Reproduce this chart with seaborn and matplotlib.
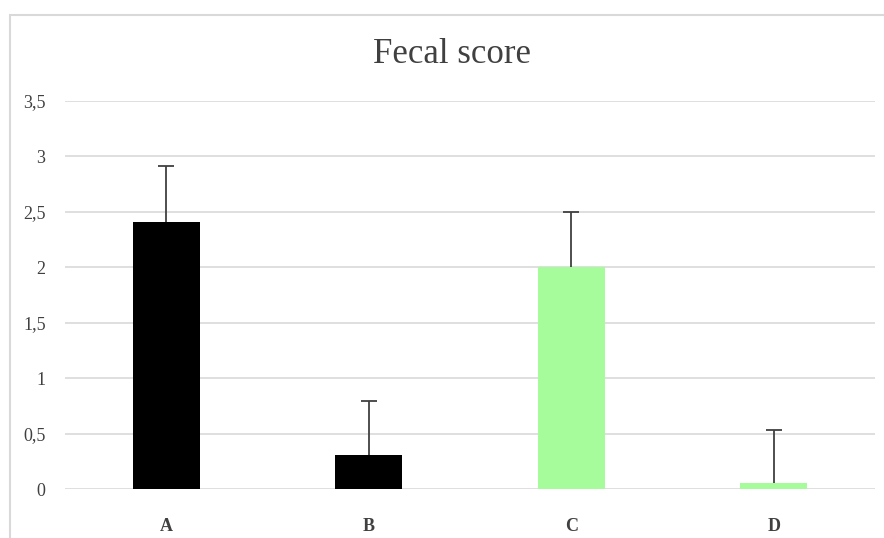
import matplotlib
matplotlib.use("Agg")
import matplotlib.pyplot as plt
import seaborn as sns
import pandas as pd
from matplotlib.patches import Rectangle
from matplotlib.ticker import FuncFormatter

categories = ["A", "B", "C", "D"]
values = [2.41, 0.31, 2.00, 0.05]
errors = [0.50, 0.48, 0.50, 0.48]
bar_colors = ["#000000", "#000000", "#a6fc9a", "#a6fc9a"]
yticks = [0, 0.5, 1, 1.5, 2, 2.5, 3, 3.5]
title = "Fecal score"

sns.set_theme(style="white")
plt.rcParams["font.family"] = ["Liberation Serif", "DejaVu Serif"]

df = pd.DataFrame({"cat": categories, "val": values})

fig = plt.figure(figsize=(8.84, 5.38), dpi=100)
W, H = 884, 538
ax = fig.add_axes([65 / W, (538 - 489) / H, (875 - 65) / W, (489 - 101) / H])

# outer chart frame
fig.patches.append(Rectangle((10 / W, -0.1), 1.2, (538 - 15) / H + 0.1,
                             transform=fig.transFigure, fill=False,
                             edgecolor="#d9d9d9", linewidth=1.5))

sns.barplot(data=df, x="cat", y="val", hue="cat", palette=bar_colors,
            width=0.33, legend=False, ax=ax, saturation=1, zorder=3,
            linewidth=0)
eb = ax.errorbar(range(len(categories)), values,
                 yerr=[[0] * len(errors), errors], fmt="none",
                 ecolor="#404040", elinewidth=1.3, capsize=6, capthick=1.3, zorder=4)
# hide lower caps (only upward error bars)
eb[1][0].set_visible(False)

ax.set_ylim(0, 3.5)
ax.set_xlim(-0.5, 3.5)
ax.set_yticks(yticks)
ax.yaxis.set_major_formatter(FuncFormatter(lambda v, p: ("%g" % v).replace(".", ",")))
ax.grid(axis="y", color="#d9d9d9", linewidth=1.2, zorder=0)
ax.grid(axis="x", visible=False)
for s in ax.spines.values():
    s.set_visible(False)
ax.tick_params(axis="y", length=0, pad=14, labelsize=13, labelcolor="#404040")
ax.tick_params(axis="x", length=0, pad=21, labelsize=13, labelcolor="#404040")
for t in ax.get_xticklabels():
    t.set_fontweight("bold")
ax.set_xlabel("")
ax.set_ylabel("")
fig.text(452 / W, 1 - 55 / H, title, ha="center", va="center",
         fontsize=25, color="#404040")

fig.savefig("out.png", dpi=100)
